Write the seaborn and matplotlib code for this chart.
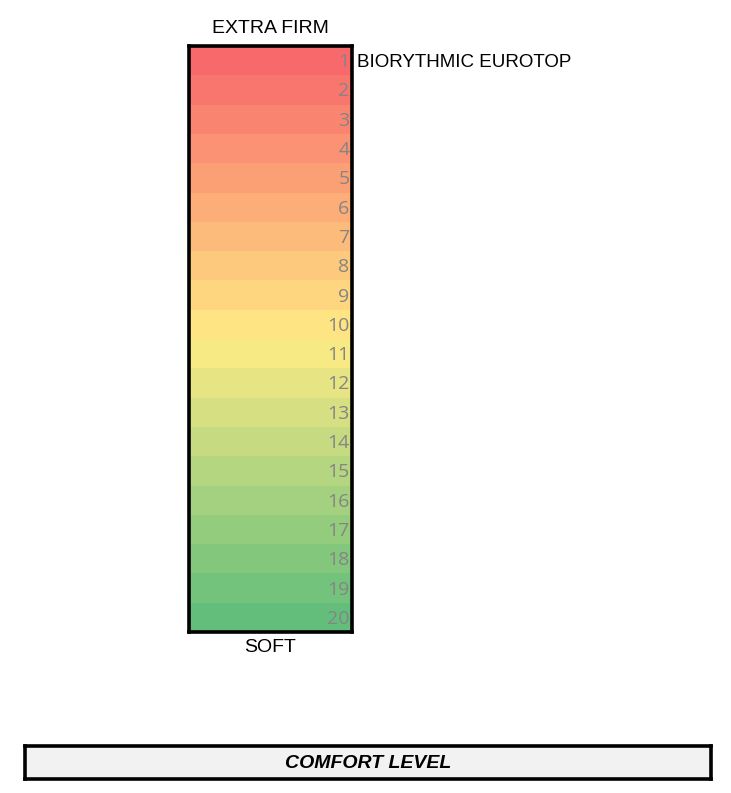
import matplotlib
matplotlib.use("Agg")
import matplotlib.pyplot as plt
from matplotlib.colors import LinearSegmentedColormap
import seaborn as sns
import pandas as pd
import numpy as np

levels = list(range(1, 21))
top_label = "EXTRA FIRM"
bottom_label = "SOFT"
marked_level = 1
marked_name = "BIORYTHMIC EUROTOP"
footer = "COMFORT LEVEL"

sns.set_theme(style="white")
plt.rcParams['font.family'] = ['Liberation Sans', 'DejaVu Sans']

W, H = 731, 793
fig = plt.figure(figsize=(W / 100, H / 100), dpi=100)

cmap = LinearSegmentedColormap.from_list(
    "excel_ryg", [(0.0, "#F8696B"), (0.5, "#FFEB84"), (1.0, "#63BE7B")])

df = pd.DataFrame({"level": levels}, index=levels)
ax = fig.add_axes([189 / W, 1 - 632 / H, (352 - 189) / W, (632 - 46) / H])
sns.heatmap(df, ax=ax, cmap=cmap, vmin=min(levels), vmax=max(levels),
            cbar=False, annot=False, xticklabels=False, yticklabels=False,
            linewidths=0)
ax.set_xlabel("")
ax.set_ylabel("")
for s in ax.spines.values():
    s.set_visible(True)
    s.set_color("black")
    s.set_linewidth(2.6)

for i, v in enumerate(levels):
    ax.text(0.985, i + 0.55, str(v), ha="right", va="center",
            color="#858585", fontsize=14,
            family=['Open Sans', 'Liberation Sans', 'DejaVu Sans'])

ax.text(0.5, -0.3, top_label, ha="center", va="bottom", fontsize=14, color="black")
ax.text(0.5, len(levels) + 0.25, bottom_label, ha="center", va="top", fontsize=14,
        color="black")
idx = levels.index(marked_level)
ax.text(1.03, idx + 0.55, marked_name, ha="left", va="center", fontsize=13.5,
        color="black", clip_on=False)

fax = fig.add_axes([25 / W, 1 - 779 / H, (711 - 25) / W, (779 - 746) / H])
fax.set_facecolor("#F2F2F2")
fax.set_xticks([])
fax.set_yticks([])
for s in fax.spines.values():
    s.set_visible(True)
    s.set_color("black")
    s.set_linewidth(2.6)
fax.text(0.5, 0.47, footer, ha="center", va="center", fontsize=14,
         fontweight="bold", fontstyle="italic", color="black",
         transform=fax.transAxes)

fig.savefig("out.png", dpi=100, facecolor="white")
